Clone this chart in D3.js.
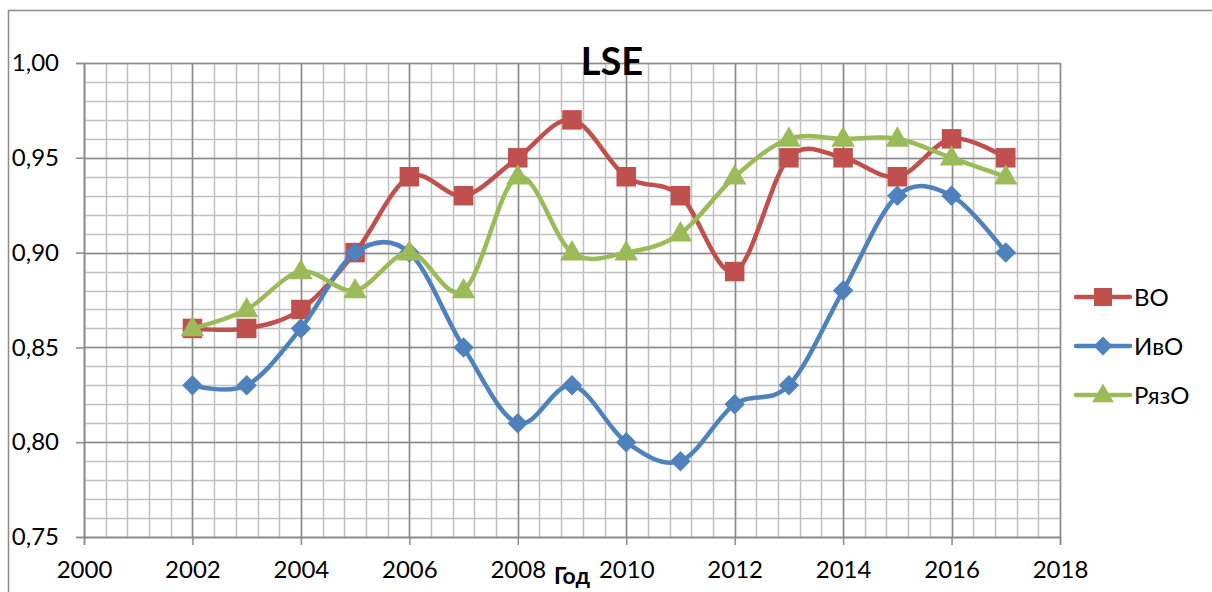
<!DOCTYPE html>
<html>
<head>
<meta charset="utf-8">
<script src="https://cdn.jsdelivr.net/npm/d3@7"></script>
<style>
html,body{margin:0;padding:0;background:#fff;}
svg{display:block;font-family:Lato,"Open Sans",sans-serif;}
</style>
</head>
<body>
<svg id="chart" width="1212" height="592"></svg>
<script>
const years = [2002,2003,2004,2005,2006,2007,2008,2009,2010,2011,2012,2013,2014,2015,2016,2017];
const seriesNames = ["ВО","ИвО","РязО"];
const valuesVO   = [0.86,0.86,0.87,0.90,0.94,0.93,0.95,0.97,0.94,0.93,0.89,0.95,0.95,0.94,0.96,0.95];
const valuesIvO  = [0.83,0.83,0.86,0.90,0.90,0.85,0.81,0.83,0.80,0.79,0.82,0.83,0.88,0.93,0.93,0.90];
const valuesRyazO= [0.86,0.87,0.89,0.88,0.90,0.88,0.94,0.90,0.90,0.91,0.94,0.96,0.96,0.96,0.95,0.94];
const xTicks = [2000,2002,2004,2006,2008,2010,2012,2014,2016,2018];
const yTicks = [0.75,0.80,0.85,0.90,0.95,1.00];
const colors = ["#C0504D","#4F81BD","#9BBB59"];
const symbols = ["square","diamond","triangle"];
const title = "LSE";
const xTitle = "Год";

const svg = d3.select("#chart");
const W = 1212, H = 592;
const m = {left:84, top:63, right:1060, bottom:537};

const x = d3.scaleLinear().domain([2000,2018]).range([m.left,m.right]);
const y = d3.scaleLinear().domain([0.75,1.00]).range([m.bottom,m.top]);

// outer chart border
svg.append("rect").attr("x",8.5).attr("y",10.5).attr("width",W+20).attr("height",H+20)
  .attr("fill","#fff").attr("stroke","#8c8c8c").attr("stroke-width",1.5);

// minor grid
const minorX = d3.range(0,46).map(i=>2000+i*0.4);
const minorY = d3.range(0,26).map(i=>0.75+i*0.01);
const g = svg.append("g");
g.selectAll(".mx").data(minorX).join("line")
  .attr("x1",d=>Math.round(x(d))+0.5).attr("x2",d=>Math.round(x(d))+0.5)
  .attr("y1",m.top).attr("y2",m.bottom).attr("stroke","#c0c0c0").attr("stroke-width",1.5);
g.selectAll(".my").data(minorY).join("line")
  .attr("y1",d=>Math.round(y(d))+0.5).attr("y2",d=>Math.round(y(d))+0.5)
  .attr("x1",m.left).attr("x2",m.right).attr("stroke","#c0c0c0").attr("stroke-width",1.5);
// major grid
g.selectAll(".Mx").data(xTicks).join("line")
  .attr("x1",d=>Math.round(x(d))+0.5).attr("x2",d=>Math.round(x(d))+0.5)
  .attr("y1",m.top).attr("y2",m.bottom).attr("stroke","#8a8a8a").attr("stroke-width",1.5);
g.selectAll(".My").data(yTicks).join("line")
  .attr("y1",d=>Math.round(y(d))+0.5).attr("y2",d=>Math.round(y(d))+0.5)
  .attr("x1",m.left).attr("x2",m.right).attr("stroke","#8a8a8a").attr("stroke-width",1.5);

// axes
const yAxis = d3.axisLeft(y).tickValues(yTicks).tickSize(8).tickPadding(17)
  .tickFormat(d=>d3.format(".2f")(d).replace(".",","));
const ya = svg.append("g").attr("transform",`translate(${m.left},0)`).call(yAxis);
const xAxis = d3.axisBottom(x).tickValues(xTicks).tickSize(8).tickPadding(20).tickFormat(d3.format("d"));
const xa = svg.append("g").attr("transform",`translate(0,${m.bottom})`).call(xAxis);
[ya,xa].forEach(a=>{
  a.select(".domain").attr("stroke","#8a8a8a").attr("stroke-width",1.5);
  a.selectAll(".tick line").attr("stroke","#8a8a8a").attr("stroke-width",1.5);
  a.selectAll("text").attr("fill","#000").style("font-size","24px").style("font-family","Lato,'Open Sans',sans-serif");
});
xa.selectAll("text").attr("dy","0.55em");

// series
const data = [valuesVO, valuesIvO, valuesRyazO];
const line = d3.line().x((d,i)=>x(years[i])).y(d=>y(d)).curve(d3.curveCardinal.tension(0));
const symType = {square:d3.symbolSquare, diamond:d3.symbolSquare, triangle:d3.symbolTriangle};
const symSize = {square:380, diamond:210, triangle:240};
const symRot = {square:0, diamond:45, triangle:0};

data.forEach((vals,k)=>{
  const sg = svg.append("g");
  const s = symbols[k];
  sg.append("path").datum(vals).attr("d",line).attr("fill","none")
    .attr("stroke",colors[k]).attr("stroke-width",4.5).attr("stroke-linejoin","round").attr("stroke-linecap","round");
  sg.selectAll("path.pt").data(vals).join("path").attr("class","pt")
    .attr("d",d3.symbol().type(symType[s]).size(symSize[s]))
    .attr("transform",(d,i)=>`translate(${x(years[i])},${y(d)+(s==="triangle"?1:0)}) rotate(${symRot[s]})`)
    .attr("fill",colors[k]);
});

// title
svg.append("text").attr("x",612).attr("y",75).attr("text-anchor","middle")
  .style("font-size","38px").style("font-weight","bold").attr("fill","#000").text(title);
svg.append("text").attr("x",572).attr("y",584).attr("text-anchor","middle")
  .style("font-size","23px").style("font-weight","bold").attr("fill","#000").text(xTitle);

// legend
const legY = [297,346,395];
seriesNames.forEach((n,k)=>{
  const lg = svg.append("g");
  const s = symbols[k];
  lg.append("line").attr("x1",1076).attr("x2",1130).attr("y1",legY[k]).attr("y2",legY[k])
    .attr("stroke",colors[k]).attr("stroke-width",4.5).attr("stroke-linecap","round");
  lg.append("path").attr("d",d3.symbol().type(symType[s]).size(symSize[s]*0.85))
    .attr("transform",`translate(1103,${legY[k]+(s==="triangle"?1:0)}) rotate(${symRot[s]})`).attr("fill",colors[k]);
  lg.append("text").attr("x",1134).attr("y",legY[k]).attr("dy","0.36em")
    .style("font-size","24px").attr("fill","#000").text(n);
});
</script>
</body>
</html>
